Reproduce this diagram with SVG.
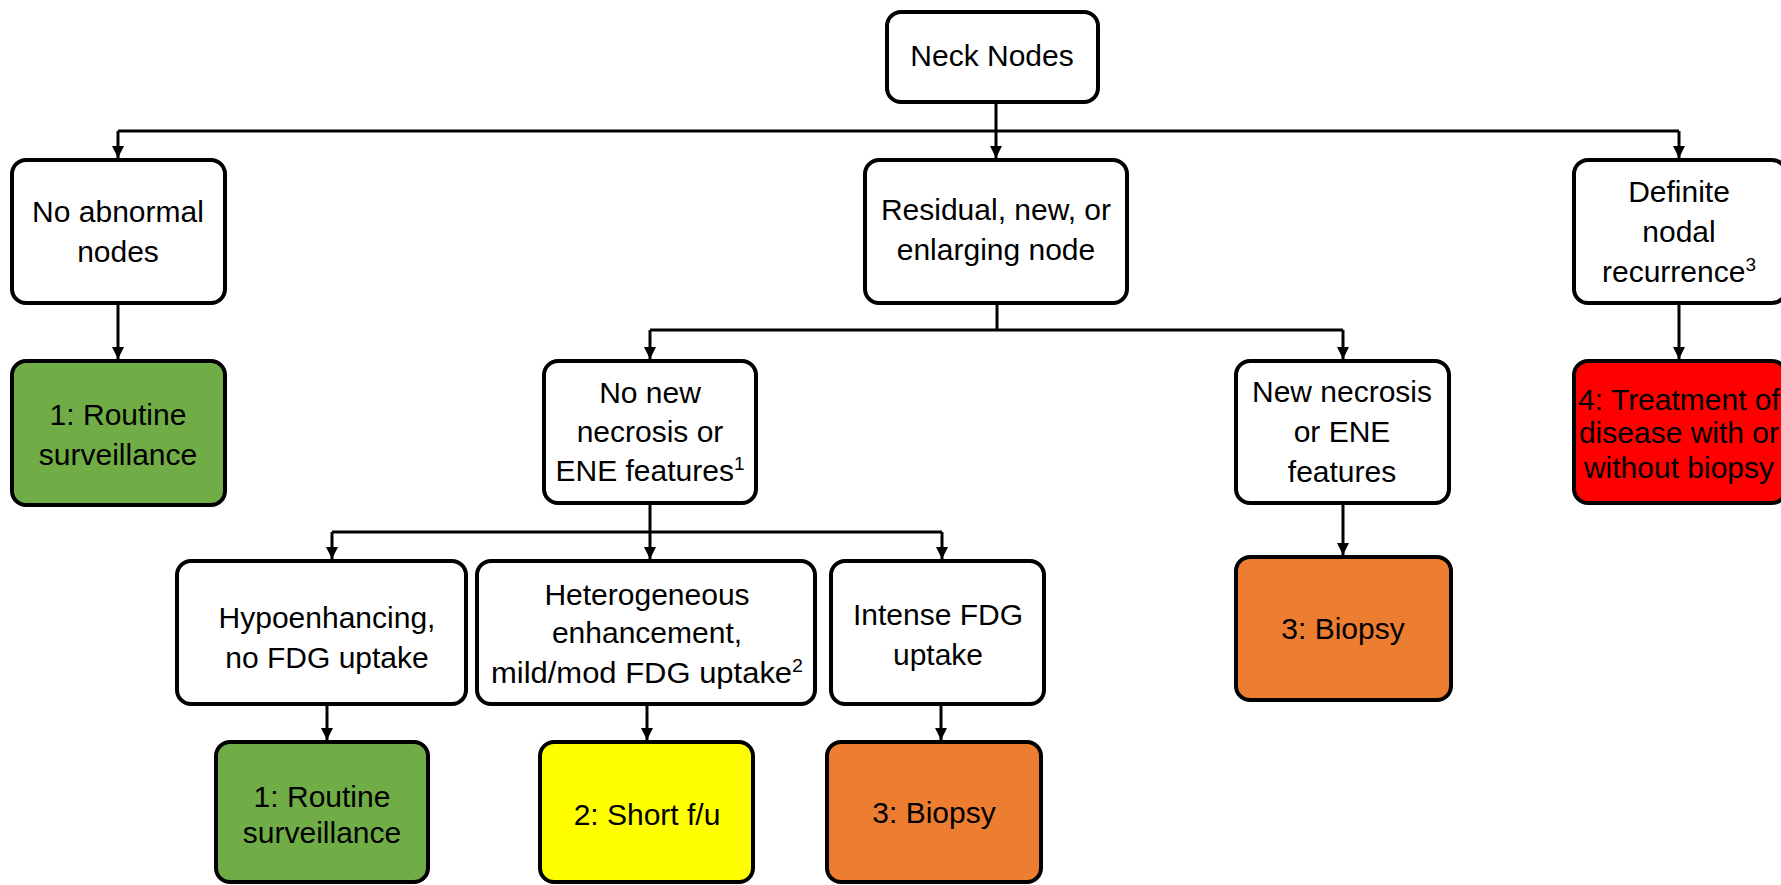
<svg xmlns="http://www.w3.org/2000/svg" width="1781" height="885" viewBox="0 0 1781 885">
<style>
.box{stroke:#000;stroke-width:4;fill:#fff}
.g{fill:#70AD47}.y{fill:#FFFF00}.o{fill:#ED7D31}.r{fill:#FF0000}
text{font-family:"Liberation Sans",Arial,sans-serif;font-size:30px;fill:#000;text-anchor:middle}
.sup{font-size:19px}
.c{fill:none;stroke:#000;stroke-width:3}
</style>
<defs>
<marker id="ah" markerUnits="userSpaceOnUse" markerWidth="13" markerHeight="13" refX="12" refY="6" orient="auto">
<path d="M0,0 L12,6 L0,12 z" fill="#000"/>
</marker>
</defs>
<rect width="1781" height="885" fill="#fff"/>
<g id="connectors">
<path class="c" d="M996,102 V131 M118,131 H1679"/>
<path class="c" d="M118,131 V158" marker-end="url(#ah)"/>
<path class="c" d="M996,131 V158" marker-end="url(#ah)"/>
<path class="c" d="M1679,131 V158" marker-end="url(#ah)"/>
<path class="c" d="M118,303 V359" marker-end="url(#ah)"/>
<path class="c" d="M1679,303 V359" marker-end="url(#ah)"/>
<path class="c" d="M997,303 V330 M650,330 H1343"/>
<path class="c" d="M650,330 V359" marker-end="url(#ah)"/>
<path class="c" d="M1343,330 V359" marker-end="url(#ah)"/>
<path class="c" d="M650,503 V532 M332,532 H942"/>
<path class="c" d="M332,532 V559" marker-end="url(#ah)"/>
<path class="c" d="M650,532 V559" marker-end="url(#ah)"/>
<path class="c" d="M942,532 V559" marker-end="url(#ah)"/>
<path class="c" d="M1343,503 V555" marker-end="url(#ah)"/>
<path class="c" d="M327,704 V740" marker-end="url(#ah)"/>
<path class="c" d="M647,704 V740" marker-end="url(#ah)"/>
<path class="c" d="M941,704 V740" marker-end="url(#ah)"/>
</g>
<g id="neck"><rect class="box" x="887" y="12" width="211" height="90" rx="14"/><text x="992" y="66">Neck Nodes</text></g>
<g id="noabnormal"><rect class="box" x="12" y="160" width="213" height="143" rx="14"/><text x="118" y="222">No abnormal</text><text x="118" y="262">nodes</text></g>
<g id="residual"><rect class="box" x="865" y="160" width="262" height="143" rx="14"/><text x="996" y="220">Residual, new, or</text><text x="996" y="260">enlarging node</text></g>
<g id="definite"><rect class="box" x="1574" y="160" width="212" height="143" rx="14"/><text x="1679" y="202">Definite</text><text x="1679" y="242">nodal</text><text x="1679" y="282">recurrence<tspan class="sup" dy="-11">3</tspan></text></g>
<g id="routine1"><rect class="box g" x="12" y="361" width="213" height="144" rx="14"/><text x="118" y="425">1: Routine</text><text x="118" y="465">surveillance</text></g>
<g id="nonew"><rect class="box" x="544" y="361" width="212" height="142" rx="14"/><text x="650" y="403">No new</text><text x="650" y="442">necrosis or</text><text x="650" y="481">ENE features<tspan class="sup" dy="-11">1</tspan></text></g>
<g id="newnecrosis"><rect class="box" x="1236" y="361" width="213" height="142" rx="14"/><text x="1342" y="402">New necrosis</text><text x="1342" y="442">or ENE</text><text x="1342" y="482">features</text></g>
<g id="treatment"><rect class="box r" x="1574" y="361" width="212" height="142" rx="14"/><text x="1679" y="410" font-size="29">4: Treatment of</text><text x="1679" y="443" font-size="29">disease with or</text><text x="1679" y="478" font-size="29">without biopsy</text></g>
<g id="hypo"><rect class="box" x="177" y="561" width="289" height="143" rx="14"/><text x="327" y="628">Hypoenhancing,</text><text x="327" y="668">no FDG uptake</text></g>
<g id="hetero"><rect class="box" x="477" y="561" width="338" height="143" rx="14"/><text x="647" y="605">Heterogeneous</text><text x="647" y="643">enhancement,</text><text x="647" y="683" textLength="312" lengthAdjust="spacingAndGlyphs">mild/mod FDG uptake<tspan class="sup" dy="-11">2</tspan></text></g>
<g id="intense"><rect class="box" x="831" y="561" width="213" height="143" rx="14"/><text x="938" y="625">Intense FDG</text><text x="938" y="665">uptake</text></g>
<g id="biopsy1"><rect class="box o" x="1236" y="557" width="215" height="143" rx="14"/><text x="1343" y="639">3: Biopsy</text></g>
<g id="routine2"><rect class="box g" x="216" y="742" width="212" height="140" rx="14"/><text x="322" y="807">1: Routine</text><text x="322" y="843">surveillance</text></g>
<g id="shortfu"><rect class="box y" x="540" y="742" width="213" height="140" rx="14"/><text x="647" y="825">2: Short f/u</text></g>
<g id="biopsy2"><rect class="box o" x="827" y="742" width="214" height="140" rx="14"/><text x="934" y="823">3: Biopsy</text></g>
</svg>
